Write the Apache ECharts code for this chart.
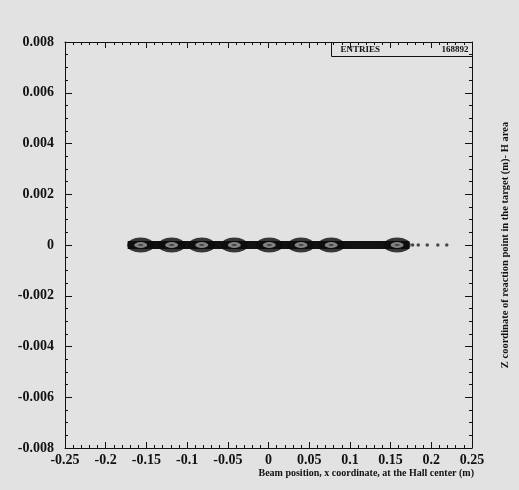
<!DOCTYPE html>
<html>
<head>
<meta charset="utf-8">
<script src="https://cdn.jsdelivr.net/npm/echarts@6/dist/echarts.min.js"></script>
<style>
  html, body { margin: 0; padding: 0; background: #e2e2e2; }
  #chart { width: 519px; height: 490px; }
</style>
</head>
<body>
<div id="chart"></div>
<script>
// beam profile: x (m) vs z (m)
const bandX = [-0.173, 0.173];
const blobX = [-0.157, -0.119, -0.082, -0.042, 0.001, 0.040, 0.077, 0.158];
const tailX = [0.177, 0.184, 0.195, 0.208, 0.219];
const xTicks = [-0.25, 0.25, 0.05];
const yTicks = [-0.008, 0.008, 0.002];
const entries = "168892";

const FONT = "Liberation Serif";
const INK = "#111";

const chart = echarts.init(document.getElementById("chart"));

function onZero(xs) {
  return xs.map(function (x) { return [x, 0]; });
}

const frameAxis = {
  axisLine: { show: true, onZero: false, lineStyle: { color: INK, width: 1 } },
  axisTick: { show: true, inside: true, length: 7, lineStyle: { color: INK } },
  minorTick: { show: true, length: 3, lineStyle: { color: INK } },
  splitLine: { show: false },
};

const option = {
  backgroundColor: "#e2e2e2",
  animation: false,
  title: {
    text: "Beam position, x coordinate, at the Hall center (m)",
    right: 45,
    top: 468,
    padding: 0,
    textStyle: { fontFamily: FONT, fontWeight: "bold", fontSize: 10, color: INK },
  },
  grid: { left: 65, right: 47, top: 42, bottom: 42 },
  xAxis: [
    Object.assign({}, frameAxis, {
      type: "value",
      min: xTicks[0],
      max: xTicks[1],
      interval: xTicks[2],
      minorTick: { show: true, splitNumber: 5, length: 3, lineStyle: { color: INK } },
      axisTick: { show: true, inside: true, length: 6, lineStyle: { color: INK } },
      axisLabel: {
        margin: 5,
        fontFamily: FONT, fontWeight: "bold", fontSize: 14, color: INK,
      },
    }),
    Object.assign({}, frameAxis, {
      type: "value",
      position: "top",
      min: xTicks[0],
      max: xTicks[1],
      interval: xTicks[2],
      minorTick: { show: true, splitNumber: 5, length: 3, lineStyle: { color: INK } },
      axisTick: { show: true, inside: true, length: 6, lineStyle: { color: INK } },
      axisLabel: { show: false },
    }),
  ],
  yAxis: [
    Object.assign({}, frameAxis, {
      type: "value",
      min: yTicks[0],
      max: yTicks[1],
      interval: yTicks[2],
      minorTick: { show: true, splitNumber: 4, length: 3, lineStyle: { color: INK } },
      axisLabel: {
        margin: 11,
        fontFamily: FONT, fontWeight: "bold", fontSize: 14, color: INK,
      },
    }),
    Object.assign({}, frameAxis, {
      type: "value",
      position: "right",
      min: yTicks[0],
      max: yTicks[1],
      interval: yTicks[2],
      minorTick: { show: true, splitNumber: 4, length: 3, lineStyle: { color: INK } },
      axisLabel: { show: false },
      name: "Z coordinate of reaction point in the target (m)- H area",
      nameLocation: "middle",
      nameRotate: 90,
      nameGap: 28,
      nameTextStyle: { fontFamily: FONT, fontWeight: "bold", fontSize: 10.5, color: INK },
    }),
  ],
  graphic: [
    {
      type: "group",
      left: 331,
      top: 42,
      children: [
        {
          type: "rect",
          shape: { x: 0, y: 0, width: 141, height: 14 },
          style: { fill: "#e2e2e2", stroke: INK, lineWidth: 1 },
        },
        {
          type: "text",
          x: 9, y: 3,
          style: { text: "ENTRIES", font: "bold 9px " + FONT, fill: INK },
        },
        {
          type: "text",
          x: 137, y: 3,
          style: { text: entries, font: "bold 9px " + FONT, fill: INK, align: "right" },
        },
      ],
    },
  ],
  series: [
    {
      type: "line",
      data: onZero(bandX),
      symbol: "none",
      lineStyle: { color: INK, width: 8 },
      z: 2,
    },
    {
      type: "scatter",
      data: onZero(blobX),
      symbol: "circle",
      symbolSize: [27, 15],
      itemStyle: { color: "#0c0c0c" },
      z: 3,
    },
    {
      type: "scatter",
      data: onZero(blobX),
      symbol: "circle",
      symbolSize: [13, 6],
      itemStyle: { color: "#a0a0a0" },
      z: 4,
    },
    {
      type: "scatter",
      data: onZero(blobX),
      symbol: "circle",
      symbolSize: [5, 2],
      itemStyle: { color: "#333" },
      z: 5,
    },
    {
      type: "scatter",
      data: onZero(tailX),
      symbol: "circle",
      symbolSize: 3.5,
      itemStyle: { color: "#222" },
      z: 3,
    },
  ],
};

chart.setOption(option);
</script>
</body>
</html>
